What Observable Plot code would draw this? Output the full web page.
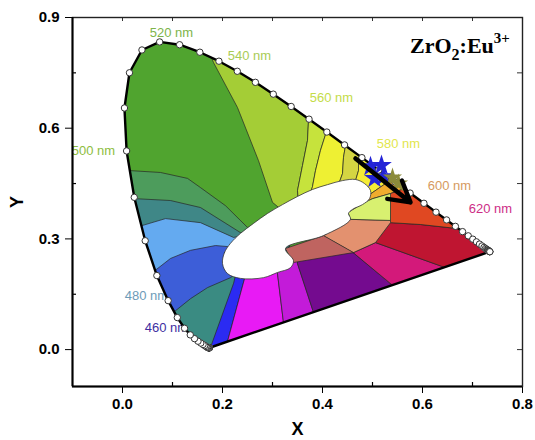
<!DOCTYPE html>
<html><head><meta charset="utf-8">
<script src="https://cdn.jsdelivr.net/npm/d3@7"></script>
<script src="https://cdn.jsdelivr.net/npm/@observablehq/plot@0.6"></script>
<style>html,body{margin:0;padding:0;background:#fff;overflow:hidden;}</style>
</head><body><div id="chart"></div>
<script>
// ---- axes ----
const xTicks = [0, 0.2, 0.4, 0.6, 0.8];
const yTicks = [0, 0.3, 0.6, 0.9];
const xMinor = [0.1, 0.3, 0.5, 0.7];
const yMinor = [0.15, 0.45, 0.75];
const xTop = [0, 0.1, 0.2, 0.3, 0.4, 0.5, 0.6, 0.7];
const yRight = [0, 0.15, 0.3, 0.45, 0.6, 0.75];

// ---- CIE 1931 spectral locus, 5 nm steps ----
const locusNm = [380,385,390,395,400,405,410,415,420,425,430,435,440,445,450,455,460,465,470,475,480,485,490,495,500,505,510,515,520,525,530,535,540,545,550,555,560,565,570,575,580,585,590,595,600,605,610,615,620,625,630,635,640,645,650,655,660,665,670,675,680,685,690,695,700];
const locusX = [0.1741,0.1740,0.1738,0.1736,0.1733,0.1730,0.1726,0.1721,0.1714,0.1703,0.1689,0.1669,0.1644,0.1611,0.1566,0.1510,0.1440,0.1355,0.1241,0.1096,0.0913,0.0687,0.0454,0.0235,0.0082,0.0039,0.0139,0.0389,0.0743,0.1142,0.1547,0.1929,0.2296,0.2658,0.3016,0.3373,0.3731,0.4087,0.4441,0.4788,0.5125,0.5448,0.5752,0.6029,0.6270,0.6482,0.6658,0.6801,0.6915,0.7006,0.7079,0.7140,0.7190,0.7230,0.7260,0.7283,0.7300,0.7311,0.7320,0.7327,0.7334,0.7340,0.7344,0.7346,0.7347];
const locusY = [0.0050,0.0050,0.0049,0.0049,0.0048,0.0048,0.0048,0.0048,0.0051,0.0058,0.0069,0.0086,0.0109,0.0138,0.0177,0.0227,0.0297,0.0399,0.0578,0.0868,0.1327,0.2007,0.2950,0.4127,0.5384,0.6548,0.7502,0.8120,0.8338,0.8262,0.8059,0.7816,0.7543,0.7243,0.6923,0.6589,0.6245,0.5896,0.5547,0.5202,0.4866,0.4544,0.4242,0.3965,0.3725,0.3514,0.3340,0.3197,0.3083,0.2993,0.2920,0.2859,0.2809,0.2770,0.2740,0.2717,0.2700,0.2689,0.2680,0.2673,0.2666,0.2660,0.2656,0.2654,0.2653];

// ---- colour regions (CIE x,y vertices; clipped to the locus) ----
const C = [0.356, 0.336];
const S = [[0.26, 0.10], [0.17, -0.05], [-0.05, -0.05]];
const rYellowGreen = [C,[0.300,0.399],[0.272,0.512],[0.230,0.656],[0.182,0.778],[0.156,0.865],[0.40,0.90],[0.380,0.675],[0.372,0.621],[0.370,0.567],[0.360,0.499],[0.350,0.431]];
const rLime = [C,[0.350,0.431],[0.360,0.499],[0.370,0.567],[0.372,0.621],[0.380,0.675],[0.420,0.634],[0.408,0.591],[0.396,0.540],[0.386,0.485],[0.380,0.442]];
const rYellow = [C,[0.380,0.442],[0.386,0.485],[0.396,0.540],[0.408,0.591],[0.420,0.634],[0.460,0.594],[0.446,0.553],[0.442,0.521],[0.440,0.477],[0.432,0.447]];
const rOlive = [C,[0.432,0.447],[0.440,0.477],[0.442,0.521],[0.446,0.553],[0.460,0.594],[0.486,0.561],[0.472,0.518],[0.472,0.485],[0.466,0.458]];
const rYellow2 = [C,[0.466,0.458],[0.472,0.485],[0.472,0.518],[0.486,0.561],[0.556,0.499],[0.526,0.450],[0.492,0.418]];
const rOrange = [C,[0.492,0.418],[0.526,0.450],[0.556,0.499],[0.596,0.480],[0.576,0.442],[0.536,0.423],[0.500,0.409],[0.480,0.396],[0.452,0.372]];
const rMidGreen = [[-0.05,0.491],[0.016,0.485],[0.076,0.480],[0.130,0.464],[0.156,0.439],[0.206,0.390],[0.250,0.331],C,...S];
const rTeal = [[-0.05,0.412],[0.026,0.409],[0.096,0.404],[0.156,0.385],[0.236,0.317],C,...S];
const rSky = [[-0.05,0.334],[0.034,0.334],[0.086,0.355],[0.156,0.344],[0.222,0.304],C,...S];
const rBlue = [[-0.05,0.209],[0.060,0.209],[0.096,0.247],[0.136,0.269],[0.186,0.282],[0.212,0.279],C,...S];
const rTeal2 = [[-0.05,0.095],[0.102,0.101],[0.136,0.138],[0.170,0.168],[0.216,0.195],C,...S];
const rBlueStrip = [[0.228,0.209],[0.248,0.209],[0.242,0.182],[0.210,0.022],[0.21,-0.01],[0.17,-0.02],[0.176,0.006],[0.222,0.179]];
const rMagenta = [[0.248,0.209],[0.308,0.236],[0.310,0.206],[0.322,0.073],[0.326,0.04],[0.21,-0.01],[0.210,0.022],[0.242,0.182]];
const rViolet = [[0.308,0.236],[0.352,0.255],[0.350,0.233],[0.382,0.101],[0.386,0.06],[0.326,0.04],[0.322,0.073],[0.310,0.206]];
const rPurple = [[0.352,0.255],[0.462,0.263],[0.540,0.174],[0.55,0.14],[0.386,0.06],[0.382,0.101],[0.350,0.233]];
const rPink = [[0.462,0.263],[0.506,0.290],[0.646,0.222],[0.66,0.19],[0.55,0.14],[0.540,0.174]];
const rCrimson = [[0.536,0.344],[0.596,0.339],[0.670,0.328],[0.696,0.344],[0.80,0.28],[0.776,0.160],[0.646,0.222],[0.506,0.290]];
const rRed = [[0.536,0.423],[0.576,0.442],[0.636,0.431],[0.696,0.344],[0.670,0.328],[0.596,0.339],[0.536,0.344]];
const rSalmon = [[0.402,0.309],[0.456,0.353],[0.536,0.350],[0.536,0.344],[0.506,0.290],[0.462,0.263]];
const rRose = [[0.326,0.274],[0.402,0.309],[0.462,0.263],[0.342,0.236]];
const rPale = [[0.452,0.372],[0.480,0.396],[0.500,0.409],[0.536,0.423],[0.536,0.350],[0.456,0.353]];

// white centre area
const blob = [[0.200,0.233],[0.204,0.263],[0.216,0.288],[0.236,0.315],[0.262,0.342],[0.290,0.369],[0.320,0.393],[0.350,0.415],[0.380,0.434],[0.410,0.447],[0.440,0.458],[0.466,0.461],[0.484,0.450],[0.496,0.431],[0.494,0.409],[0.480,0.393],[0.460,0.380],[0.452,0.369],[0.456,0.353],[0.402,0.309],[0.326,0.274],[0.342,0.241],[0.336,0.222],[0.310,0.209],[0.282,0.195],[0.236,0.193],[0.210,0.206]];

// wavelength labels
const labelText = ["520 nm","540 nm","560 nm","580 nm","600 nm","620 nm","500 nm","480 nm","460 nm"];
const labelX = [0.098,0.254,0.418,0.552,0.654,0.736,-0.058,0.048,0.088];
const labelY = [0.859,0.797,0.683,0.558,0.445,0.382,0.540,0.147,0.058];

// sample points and shift arrow
const blueX = [0.496,0.518,0.504,0.522];
const blueY = [0.496,0.499,0.464,0.469];
const oliveX = [0.540,0.552];
const oliveY = [0.466,0.450];
const arrowFrom = [0.466, 0.518];
const arrowTo = [0.576, 0.399];

// ---- styles ----
const labelColor = ["#7db44a","#a9cc55","#c4dc48","#e2e64c","#d69a5e","#cd2d86","#8dbd3e","#6d9bb8","#3e2f9f"];
const regionList = [
  ["green", locusX.map((x, i) => [x, locusY[i]]), "#50a42f"],
  ["yellowGreen", rYellowGreen, "#a4cd36"],
  ["lime", rLime, "#c6e33c"],
  ["yellow", rYellow, "#eef033"],
  ["olive", rOlive, "#d4d542"],
  ["yellow2", rYellow2, "#f5ec36"],
  ["orange", rOrange, "#f0ac2e"],
  ["midGreen", rMidGreen, "#4d9c5c"],
  ["teal", rTeal, "#3f8787"],
  ["sky", rSky, "#64aaf0"],
  ["blue", rBlue, "#3d5ed8"],
  ["teal2", rTeal2, "#3a8b82"],
  ["blueStrip", rBlueStrip, "#2b2bf2"],
  ["magenta", rMagenta, "#e81af5"],
  ["violet", rViolet, "#c31bd9"],
  ["purple", rPurple, "#740b8f"],
  ["pink", rPink, "#d3197a"],
  ["crimson", rCrimson, "#bf1531"],
  ["red", rRed, "#e04822"],
  ["salmon", rSalmon, "#e3916f"],
  ["rose", rRose, "#bf6460"],
  ["pale", rPale, "#d8f070"]
];
const regionRows = regionList.flatMap(([name, pts, color]) => pts.map(([x, y]) => ({x, y, name, color})));
const locusRows = locusNm.map((nm, i) => ({nm, x: locusX[i], y: locusY[i]}));
const labelRows = labelText.map((t, i) => ({t, x: labelX[i], y: labelY[i], color: labelColor[i]}));
const blobRows = blob.map(([x, y]) => ({x, y}));
const blueRows = blueX.map((x, i) => ({x, y: blueY[i]}));
const oliveRows = oliveX.map((x, i) => ({x, y: oliveY[i]}));
const arrowRows = [{x1: arrowFrom[0], y1: arrowFrom[1], x2: arrowTo[0], y2: arrowTo[1]}];

const plot = Plot.plot({
  width: 535, height: 440,
  marginLeft: 72, marginRight: 13, marginTop: 17, marginBottom: 54,
  style: {fontFamily: "'Liberation Sans', Arial, Helvetica, sans-serif", fontSize: "15px", fontWeight: "bold", color: "black", background: "white"},
  color: {type: "identity"},
  x: {domain: [-0.1, 0.8], ticks: xTicks, tickFormat: ".1f", tickSize: 7, tickPadding: 5, label: "X", labelAnchor: "center", labelOffset: 48, labelArrow: "none"},
  y: {domain: [-0.1, 0.9], ticks: yTicks, tickFormat: ".1f", tickSize: 7, tickPadding: 6, label: "Y", labelAnchor: "center", labelOffset: 62, labelArrow: "none"},
  marks: [
    Plot.text(labelRows, {x: "x", y: "y", text: "t", fill: "color", fontSize: 13, fontWeight: "normal"}),
    Plot.line(regionRows, {x: "x", y: "y", z: "name", fill: "color", stroke: "#262626", strokeWidth: 0.7, curve: "linear-closed"}),
    Plot.line(blobRows, {x: "x", y: "y", fill: "white", stroke: "#333", strokeWidth: 0.8, curve: "catmull-rom-closed"}),
    Plot.line(locusRows, {x: "x", y: "y", stroke: "black", strokeWidth: 2.4, curve: "linear-closed"}),
    Plot.dot(locusRows, {x: "x", y: "y", r: 3.2, fill: "white", stroke: "#333", strokeWidth: 1}),
    Plot.dot(blueRows, {x: "x", y: "y", symbol: "star", r: 6.5, fill: "#2424d6"}),
    Plot.dot(oliveRows, {x: "x", y: "y", symbol: "star", r: 6, fill: "#8b8b3a"}),
    Plot.arrow(arrowRows, {x1: "x1", y1: "y1", x2: "x2", y2: "y2", stroke: "black", strokeWidth: 4.5, headLength: 12, headAngle: 60}),
    Plot.tickX(xMinor, {x: d => d, insetTop: 365, stroke: "black", strokeWidth: 1.2}),
    Plot.tickX(xTop, {x: d => d, insetBottom: 365, stroke: "#333", strokeWidth: 1}),
    Plot.tickY(yMinor, {y: d => d, insetRight: 446, stroke: "black", strokeWidth: 1.2}),
    Plot.tickY(yRight, {y: d => d, insetLeft: 445, stroke: "#333", strokeWidth: 1}),
    Plot.frame({stroke: "#222", strokeWidth: 1.4}),
    Plot.ruleX([-0.1], {stroke: "black", strokeWidth: 2}),
    Plot.ruleY([-0.1], {stroke: "black", strokeWidth: 2})
  ]
});

const svgEl = plot.tagName.toLowerCase() === "svg" ? plot : plot.querySelector("svg");
const svg = d3.select(svgEl);
const sx = plot.scale("x"), sy = plot.scale("y");
const clipPts = locusX.map((x, i) => [sx.apply(x), sy.apply(locusY[i])]);
svg.append("defs").append("clipPath").attr("id", "locus-clip")
  .append("path").attr("d", d3.line()(clipPts) + "Z");
// the first line mark holds the colour regions
const lineGroups = svgEl.querySelectorAll('g[aria-label="line"]');
if (lineGroups.length) lineGroups[0].setAttribute("clip-path", "url(#locus-clip)");
svg.selectAll('g[aria-label="x-axis label"] text, g[aria-label="y-axis label"] text').style("font-size", "18px");

// title with sub/superscripts
const title = svg.append("text")
  .attr("x", sx.apply(0.576)).attr("y", sy.apply(0.802))
  .attr("text-anchor", "start")
  .attr("font-family", "'Liberation Serif', 'Times New Roman', serif")
  .attr("font-weight", "bold").attr("font-size", 22).attr("fill", "black");
title.append("tspan").text("ZrO");
title.append("tspan").attr("font-size", 16).attr("dy", 7).text("2");
title.append("tspan").attr("dy", -7).text(":Eu");
title.append("tspan").attr("font-size", 15).attr("dy", -10).text("3+");

document.getElementById("chart").append(plot);
</script>
</body></html>
